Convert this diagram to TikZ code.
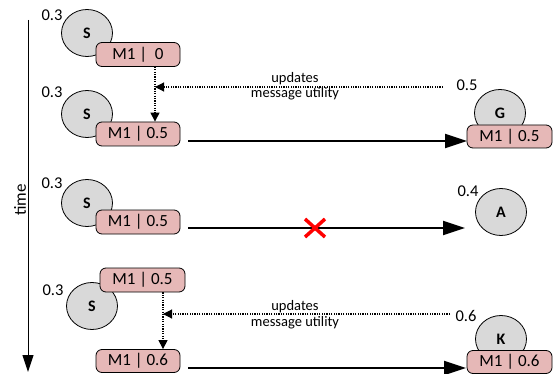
\documentclass[tikz,border=0pt]{standalone}
\usepackage{fontspec}
\setmainfont{Carlito}
\usetikzlibrary{arrows.meta,shapes.geometric}
\definecolor{boxpink}{HTML}{E6B8B7}
\definecolor{circgray}{HTML}{D9D9D9}
\begin{document}
\begin{tikzpicture}[x=1pt,y=-1pt,
 agent/.style={ellipse,draw=black,fill=circgray,minimum width=51pt,minimum height=47pt,inner sep=0pt,font=\fontsize{16}{18}\selectfont\bfseries,line width=0.8pt},
 msg/.style={draw=black,fill=boxpink,rounded corners=6pt,minimum width=84pt,minimum height=24pt,inner sep=0pt,font=\fontsize{17}{19}\selectfont,line width=0.8pt},
 util/.style={font=\fontsize{16.5}{19}\selectfont,inner sep=0pt},
 lbl/.style={font=\fontsize{14.5}{17}\selectfont,inner sep=0pt},
 send/.style={line width=2.2pt,-{Triangle[length=22pt,width=14pt]}},
 upd/.style={line width=1.1pt,dash pattern=on 1.2pt off 1.2pt,-{Triangle[length=9pt,width=9pt]}}
]
\useasboundingbox (0,0) rectangle (553,374);

% time axis
\coordinate (t0) at (28,20);
\coordinate (t1) at (28,372);
\draw[line width=1pt,-{Triangle[length=17pt,width=11pt]}] (t0) -- (t1);
\node[rotate=90,font=\fontsize{17}{20}\selectfont,inner sep=0pt] (tl) at (20,200) {time};

% row 1
\node[agent] (s1) at (87,33) {S};
\node[util] (v1) at (52,15) {0.3};
\node[msg] (m1) at (138,54.5) {M1 |~~0};

% row 2
\node[agent] (s2) at (87,114) {S};
\node[util] (v2) at (52,92) {0.3};
\node[msg] (m2) at (138,134) {M1 | 0.5};
\node[agent] (g) at (500,113) {G};
\node[util] (vg) at (467,85) {0.5};
\node[msg,minimum width=85pt,minimum height=23pt] (gm) at (509.5,136.5) {M1 | 0.5};

\coordinate (j1) at (155,87);
\coordinate (u1) at (443,87);
\draw[upd] (m1.south -| j1) -- (m2.north -| j1);
\draw[upd] (u1) -- (j1);
\node[lbl] (l1a) at (295,79) {updates};
\node[lbl] (l1b) at (295,94) {message utility};

\coordinate (a2s) at (188,141);
\coordinate (a2e) at (467,141);
\draw[send] (a2s) -- (a2e);

% row 3
\node[agent] (s3) at (87,203) {S};
\node[util] (v3) at (52,183) {0.3};
\node[msg] (m3) at (138,222) {M1 | 0.5};
\node[agent] (a) at (501,212) {A};
\node[util] (va) at (468,191) {0.4};

\coordinate (a3s) at (188,228);
\coordinate (a3e) at (465,228);
\draw[send] (a3s) -- (a3e);
\draw[red,line width=3.5pt] (305,219) -- (325,237) (305,237) -- (325,219);

% row 4
\node[agent] (s4) at (92,306) {S};
\node[util] (v4) at (53,290) {0.3};
\node[msg,minimum width=85pt] (m4a) at (142.5,280) {M1 | 0.5};
\node[msg,minimum height=23pt] (m4b) at (138,361) {M1 | 0.6};
\node[agent] (k) at (501,339) {K};
\node[util] (vk) at (466,316) {0.6};
\node[msg,minimum width=85pt,minimum height=23pt] (km) at (509.5,362) {M1 | 0.6};

\coordinate (j2) at (163,314);
\coordinate (u2) at (450,314);
\draw[upd] (m4a.south -| j2) -- (m4b.north -| j2);
\draw[upd] (u2) -- (j2);
\node[lbl] (l2a) at (295,307) {updates};
\node[lbl] (l2b) at (295,323) {message utility};

\coordinate (a4s) at (188,368);
\coordinate (a4e) at (466,368);
\draw[send] (a4s) -- (a4e);
\end{tikzpicture}
\end{document}
